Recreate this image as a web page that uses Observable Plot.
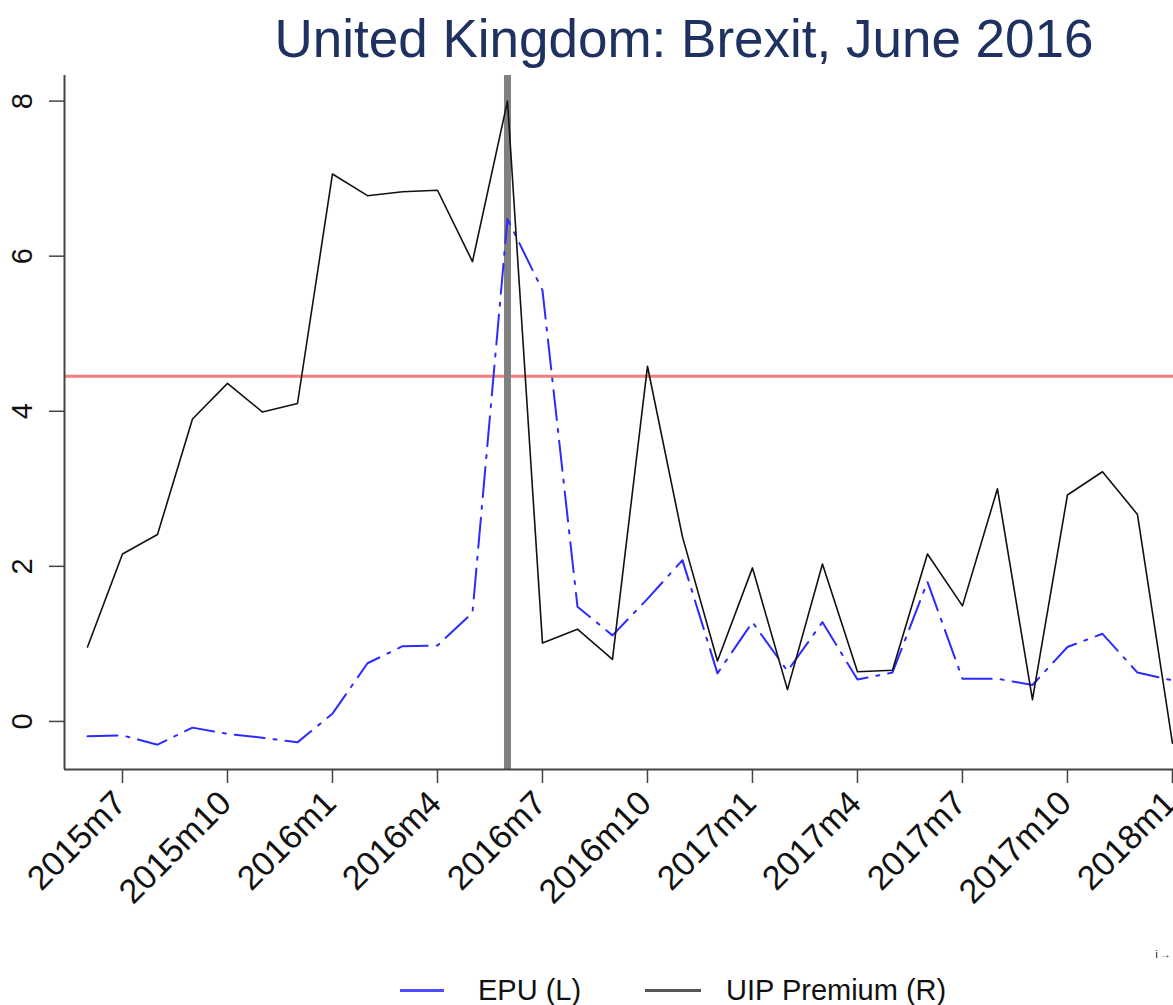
<!DOCTYPE html>
<html>
<head>
<meta charset="utf-8">
<script src="https://cdn.jsdelivr.net/npm/d3@7"></script>
<script src="https://cdn.jsdelivr.net/npm/@observablehq/plot@0.6"></script>
<style>
  html, body { margin: 0; padding: 0; background: #fff; }
  #wrap { position: relative; width: 1173px; height: 1005px; overflow: hidden; font-family: "Liberation Sans", Arial, Helvetica, sans-serif; }
  #title { position: absolute; left: 0; top: 4px; width: 1368px; text-align: center; font-size: 53px; color: #1e3160; line-height: 70px; white-space: nowrap; }
  #plot { position: absolute; left: 0; top: 0; }
  .leg { position: absolute; top: 973px; font-size: 29px; color: #111; line-height: 34px; white-space: nowrap; }
  .sw { position: absolute; height: 3px; top: 989px; }
</style>
</head>
<body>
<div id="wrap">
  <div id="plot"></div>
  <div id="title">United Kingdom: Brexit, June 2016</div>
  <div class="sw" style="left:400px;width:44px;background:#4d4dff;"></div>
  <div class="leg" style="left:478px;">EPU (L)</div>
  <div class="sw" style="left:645px;width:56px;background:#555;"></div>
  <div class="leg" style="left:726px;">UIP Premium (R)</div>
</div>
<script>
const months = ["2015m6","2015m7","2015m8","2015m9","2015m10","2015m11","2015m12",
  "2016m1","2016m2","2016m3","2016m4","2016m5","2016m6","2016m7","2016m8","2016m9","2016m10","2016m11","2016m12",
  "2017m1","2017m2","2017m3","2017m4","2017m5","2017m6","2017m7","2017m8","2017m9","2017m10","2017m11","2017m12",
  "2018m1"];
const epu = [-0.19,-0.18,-0.30,-0.08,-0.16,-0.21,-0.27,0.10,0.75,0.97,0.98,1.40,6.48,5.56,1.48,1.11,1.58,2.08,0.62,1.28,0.65,1.28,0.54,0.63,1.80,0.55,0.55,0.47,0.96,1.13,0.63,0.53];
const uip = [0.96,2.16,2.41,3.90,4.36,3.99,4.10,7.06,6.78,6.83,6.85,5.93,8.00,1.01,1.19,0.80,4.58,2.38,0.78,1.98,0.41,2.03,0.64,0.66,2.16,1.49,3.00,0.28,2.92,3.22,2.67,-0.28];
const xTickLabels = ["2015m7","2015m10","2016m1","2016m4","2016m7","2016m10","2017m1","2017m4","2017m7","2017m10","2018m1"];
const yTicks = [0, 2, 4, 6, 8];
const eventMonth = "2016m6";
const thresholdValue = 4.45;

const rows = months.map((m, i) => ({i, month: m, epu: epu[i], uip: uip[i]}));
const xTickIdx = xTickLabels.map(l => months.indexOf(l));
const xMin = -0.657, xMax = 31.03, yMin = -0.62, yMax = 8.33;

const chart = Plot.plot({
  width: 1173,
  height: 960,
  marginTop: 75,
  marginBottom: 191,
  marginLeft: 64,
  marginRight: 0,
  style: {fontFamily: "'Liberation Sans', Arial, Helvetica, sans-serif", background: "transparent", overflow: "visible"},
  x: {domain: [xMin, xMax], axis: null},
  y: {domain: [yMin, yMax], axis: null},
  marks: [
    Plot.ruleY([thresholdValue], {stroke: "#f47c7c", strokeWidth: 3}),
    Plot.ruleX([months.indexOf(eventMonth)], {stroke: "#808080", strokeWidth: 7}),
    Plot.line(rows, {x: "i", y: "epu", stroke: "#2b2bff", strokeWidth: 2, strokeDasharray: "30,9,3,9"}),
    Plot.line(rows, {x: "i", y: "uip", stroke: "#111", strokeWidth: 1.6}),
    Plot.ruleX([xMin], {stroke: "#444", strokeWidth: 2}),
    Plot.ruleY([yMin], {stroke: "#444", strokeWidth: 2}),
    Plot.axisX({ticks: xTickIdx, tickSize: 14, tickFormat: () => "", stroke: "#444", strokeWidth: 1.5}),
    Plot.axisY({ticks: yTicks, tickSize: 15, tickFormat: () => "", stroke: "#444", strokeWidth: 1.5}),
    Plot.text(xTickIdx.map((d, k) => ({i: d, label: xTickLabels[k]})), {
      x: "i", y: () => yMin, text: "label", rotate: -45, textAnchor: "end",
      dx: -2, dy: 28, fontSize: 34, fill: "#111"
    }),
    Plot.text(yTicks, {
      x: () => xMin, y: d => d, text: d => String(d), rotate: -90,
      dx: -42, fontSize: 29, fill: "#111"
    })
  ]
});
document.getElementById("plot").appendChild(chart);
</script>
</body>
</html>
